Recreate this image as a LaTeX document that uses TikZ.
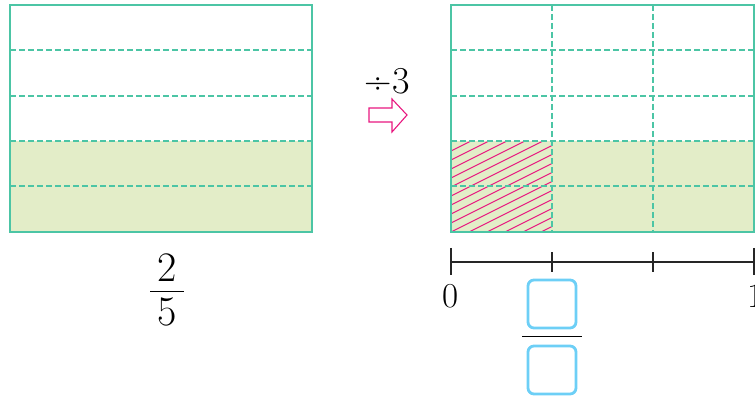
\documentclass[tikz,border=0pt]{standalone}
\usepackage{fontspec}
\begin{document}
\definecolor{gridgreen}{HTML}{4CC5A5}
\definecolor{fillgreen}{HTML}{E3EDC8}
\definecolor{hatchpink}{HTML}{E8177F}
\definecolor{boxblue}{HTML}{6DCFF6}
\begin{tikzpicture}[x=1pt,y=-1pt,
  frame/.style={draw=gridgreen,line width=1.3pt},
  gridline/.style={draw=gridgreen,line width=1.1pt,dash pattern=on 6pt off 3pt},
  digit/.style={inner sep=0pt},
  answerbox/.style={draw=boxblue,line width=2.8pt,rounded corners=6pt,minimum width=48pt,minimum height=48pt,inner sep=0pt},
  tick/.style={line width=1.2pt,draw=black!85}]
\useasboundingbox (0,0) rectangle (755,398);
% left rectangle
\fill[fillgreen] (10,141) rectangle (312,232);
\foreach \y in {50,96,141,186} \draw[gridline] (10,\y) -- (312,\y);
\draw[frame] (10,5) rectangle (312,232);
% fraction 2/5
\node[digit] (n2) at (167,268) {\fontsize{42}{42}\selectfont 2};
\node[digit] (d5) at (167,312) {\fontsize{42}{42}\selectfont 5};
\draw[line width=0.9pt] (150,291) -- (184,291);
% divide by 3
\node[digit] (div) at (387,81) {\fontsize{38}{38}\selectfont ÷\kern1pt 3};
\draw[hatchpink,line width=1.1pt] (369,108) -- (392,108) -- (392,99) -- (407,115) -- (392,132) -- (392,122) -- (369,122) -- cycle;
% right rectangle
\fill[fillgreen] (451,141) rectangle (754,232);
\begin{scope}
\clip (451,141) rectangle (552,232);
\foreach \k in {0,...,30} \draw[hatchpink,line width=1.1pt] (451,142+\k*9) -- ++(110,-55);
\end{scope}
\foreach \y in {50,96,141,186} \draw[gridline] (451,\y) -- (754,\y);
\foreach \x in {552,653} \draw[gridline] (\x,5) -- (\x,232);
\draw[frame] (451,5) rectangle (754,232);
% number line
\coordinate (nl0) at (451,262);
\coordinate (nl1) at (754,262);
\draw[tick] (nl0) -- (nl1);
\draw[tick] (451,248) -- (451,275);
\draw[tick] (754,248) -- (754,275);
\draw[tick] (552,252) -- (552,272);
\draw[tick] (653,252) -- (653,272);
\node[digit] (zero) at (451,296) {\fontsize{35}{35}\selectfont 0};
\node[digit] (one) at (756,296) {\fontsize{35}{35}\selectfont 1};
% answer boxes
\node[answerbox] (top) at (552,304) {};
\node[answerbox] (bot) at (552,370) {};
\draw[line width=0.9pt] (522,336) -- (582,336);
\end{tikzpicture}
\end{document}
